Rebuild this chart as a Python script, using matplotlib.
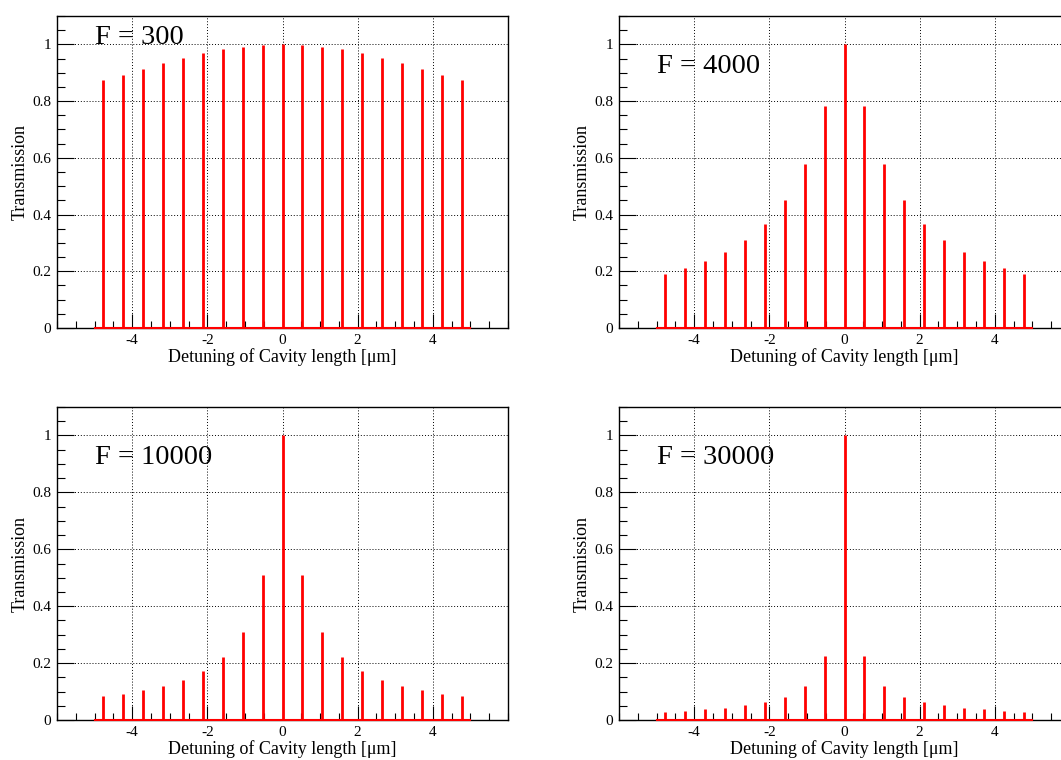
import matplotlib
matplotlib.use("Agg")
from matplotlib import pyplot as plt
from matplotlib.ticker import MultipleLocator
import numpy as np

plt.rcParams["font.family"] = ["Liberation Serif", "DejaVu Serif"]
plt.rcParams["axes.unicode_minus"] = False

# resonance positions (um), one free spectral range = 0.532 um
peak_x = [-4.788, -4.256, -3.724, -3.192, -2.660, -2.128, -1.596, -1.064, -0.532, 0.0,
          0.532, 1.064, 1.596, 2.128, 2.660, 3.192, 3.724, 4.256, 4.788]

# peak heights (left half; mirrored on the right)
half_300 = [0.873, 0.893, 0.914, 0.933, 0.951, 0.968, 0.982, 0.992, 0.998, 1.0]
half_4000 = [0.191, 0.211, 0.236, 0.267, 0.311, 0.367, 0.451, 0.578, 0.784, 1.0]
half_10000 = [0.085, 0.092, 0.106, 0.121, 0.142, 0.173, 0.222, 0.310, 0.508, 1.0]
half_30000 = [0.028, 0.033, 0.038, 0.042, 0.053, 0.063, 0.080, 0.121, 0.224, 1.0]

finesse_labels = ["F = 300", "F = 4000", "F = 10000", "F = 30000"]
label_y = [1.0, 0.9, 0.9, 0.9]

func_range = [-5, 5]
x_major = [-4, -2, 0, 2, 4]
y_major = [0, 0.2, 0.4, 0.6, 0.8, 1.0]
y_labels = ["0", "0.2", "0.4", "0.6", "0.8", "1"]


def mirror(half):
    return half + half[-2::-1]


W, H = 1061, 760
fig = plt.figure(figsize=(W / 100, H / 100), dpi=100)

# axes boxes in pixels: left, right, top, bottom
boxes = [
    (57, 508, 16, 328),
    (619, 1070, 16, 328),
    (57, 508, 407, 720),
    (619, 1070, 407, 720),
]

heights = [mirror(half_300), mirror(half_4000), mirror(half_10000), mirror(half_30000)]

for box, h, lab, ly in zip(boxes, heights, finesse_labels, label_y):
    l, r, t, b = box
    ax = fig.add_axes([l / W, 1 - b / H, (r - l) / W, (b - t) / H])
    ax.set_xlim(-6, 6)
    ax.set_ylim(0, 1.1)

    ax.set_xticks(x_major)
    ax.set_xticklabels([str(v) for v in x_major])
    ax.xaxis.set_minor_locator(MultipleLocator(0.5))
    ax.set_yticks(y_major)
    ax.set_yticklabels(y_labels)
    ax.yaxis.set_minor_locator(MultipleLocator(0.05))

    ax.tick_params(axis="both", which="both", direction="in", top=False, right=False,
                   labelsize=11, width=0.8, pad=4)
    ax.tick_params(axis="y", which="major", length=12)
    ax.tick_params(axis="y", which="minor", length=6)
    ax.tick_params(axis="x", which="major", length=10)
    ax.tick_params(axis="x", which="minor", length=5)

    for sp in ax.spines.values():
        sp.set_linewidth(1.0)

    ax.grid(which="major", color="black", linestyle=(0, (1, 2)), linewidth=0.7)
    ax.set_axisbelow(True)

    ax.plot(func_range, [0, 0], color="red", linewidth=1.5, zorder=3, clip_on=False)
    ax.vlines(peak_x, 0, h, color="red", linewidth=2, zorder=3)

    ax.text(-5.0, ly, lab, fontsize=20.5, ha="left", va="baseline")

    ax.set_ylabel("Transmission", fontsize=13, va="center")
    ax.yaxis.set_label_coords(-0.082, 0.5)
    ax.set_xlabel("Detuning of Cavity length [\u03bcm]", fontsize=13, va="center")
    ax.xaxis.set_label_coords(0.5, -0.093)

fig.savefig("out.png", dpi=100)
